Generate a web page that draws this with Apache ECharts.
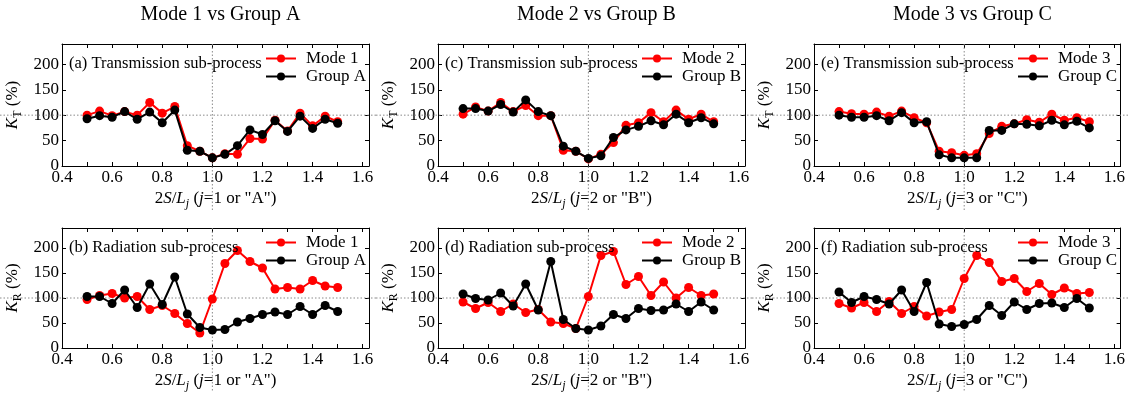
<!DOCTYPE html>
<html>
<head>
<meta charset="utf-8">
<script src="https://cdn.jsdelivr.net/npm/echarts@6/dist/echarts.min.js"></script>
<style>
html, body { margin: 0; padding: 0; background: #fff; }
#main { width: 1128px; height: 399px; }
</style>
</head>
<body>
<div id="main"></div>
<script>
var chart = echarts.init(document.getElementById('main'));

var xs = [0.5, 0.55, 0.6, 0.65, 0.7, 0.75, 0.8, 0.85, 0.9, 0.95, 1.0,
          1.05, 1.1, 1.15, 1.2, 1.25, 1.3, 1.35, 1.4, 1.45, 1.5];

var kT_mode1  = [100, 108, 99, 107, 100, 125, 104, 117, 40, 29, 16, 24, 23, 54, 53, 90, 69, 104, 79, 98, 87];
var kT_groupA = [93, 99, 96, 107, 92, 106, 85, 110, 31, 29, 16, 23, 40, 71, 62, 89, 68, 98, 74, 92, 84];
var kT_mode2  = [102, 116, 108, 125, 107, 119, 99, 99, 31, 29, 14, 23, 46, 80, 85, 105, 87, 110, 92, 102, 87];
var kT_groupB = [113, 113, 108, 121, 106, 130, 107, 99, 39, 29, 15, 20, 56, 71, 78, 89, 81, 102, 85, 95, 83];
var kT_mode3  = [107, 103, 102, 106, 98, 108, 95, 85, 29, 26, 21, 24, 64, 78, 83, 91, 86, 102, 90, 95, 87];
var kT_groupC = [100, 96, 96, 99, 89, 105, 85, 87, 22, 16, 16, 16, 70, 70, 83, 82, 79, 90, 81, 88, 75];

var kR_mode1  = [97, 105, 109, 100, 103, 77, 85, 69, 49, 30, 98, 169, 195, 173, 160, 118, 121, 118, 135, 124, 121];
var kR_groupA = [103, 103, 89, 116, 81, 128, 87, 142, 68, 41, 36, 37, 52, 59, 67, 72, 67, 83, 67, 85, 73];
var kR_mode2  = [92, 79, 91, 73, 88, 71, 77, 52, 49, 39, 103, 185, 193, 127, 143, 105, 132, 100, 121, 105, 108];
var kR_groupB = [108, 99, 96, 110, 84, 128, 76, 173, 57, 39, 36, 44, 67, 59, 79, 75, 76, 88, 73, 92, 76];
var kR_mode3  = [89, 80, 91, 73, 93, 69, 83, 64, 72, 77, 139, 185, 171, 133, 139, 113, 129, 107, 120, 109, 111];
var kR_groupC = [112, 91, 103, 97, 88, 116, 73, 131, 48, 43, 47, 57, 85, 65, 92, 77, 89, 90, 81, 99, 80];

var colTitles = ['Mode 1 vs Group A', 'Mode 2 vs Group B', 'Mode 3 vs Group C'];
var jText = ['1 or "A"', '2 or "B"', '3 or "C"'];
var refX = 1.0, refY = 100;

var panels = [
    { col: 0, row: 0, label: '(a) Transmission sub-process', red: kT_mode1, black: kT_groupA, rn: 'Mode 1', bn: 'Group A', k: 'T' },
    { col: 0, row: 1, label: '(b) Radiation sub-process',    red: kR_mode1, black: kR_groupA, rn: 'Mode 1', bn: 'Group A', k: 'R' },
    { col: 1, row: 0, label: '(c) Transmission sub-process', red: kT_mode2, black: kT_groupB, rn: 'Mode 2', bn: 'Group B', k: 'T' },
    { col: 1, row: 1, label: '(d) Radiation sub-process',    red: kR_mode2, black: kR_groupB, rn: 'Mode 2', bn: 'Group B', k: 'R' },
    { col: 2, row: 0, label: '(e) Transmission sub-process', red: kT_mode3, black: kT_groupC, rn: 'Mode 3', bn: 'Group C', k: 'T' },
    { col: 2, row: 1, label: '(f) Radiation sub-process',    red: kR_mode3, black: kR_groupC, rn: 'Mode 3', bn: 'Group C', k: 'R' }
];

var FONT = '"Liberation Serif", "Times New Roman", serif';
var gridLeft = [62, 438, 814];
var gridTop = [44, 228];
var gridH = [122, 120];
var gridW = 307;

function rich() {
    return {
        n: { fontFamily: FONT, fontSize: 17, color: '#000', lineHeight: 17 },
        i: { fontFamily: FONT, fontSize: 17, color: '#000', fontStyle: 'italic', lineHeight: 17 },
        sub: { fontFamily: FONT, fontSize: 12, color: '#000', verticalAlign: 'bottom', lineHeight: 23 },
        isub: { fontFamily: FONT, fontSize: 12, color: '#000', fontStyle: 'italic', verticalAlign: 'bottom', lineHeight: 23 }
    };
}

var grids = [], xAxes = [], yAxes = [], series = [], legends = [], titles = [];

colTitles.forEach(function (t, c) {
    titles.push({
        text: t, left: gridLeft[c] + gridW / 2, top: 0, textAlign: 'center',
        textStyle: { fontFamily: FONT, fontSize: 20, fontWeight: 'normal', color: '#000' }
    });
});

var tickStyle = { show: true, inside: true, length: 4, lineStyle: { color: '#000', width: 1 } };
var lineStyleAx = { show: true, onZero: false, lineStyle: { color: '#000', width: 1 } };

panels.forEach(function (p, i) {
    var L = gridLeft[p.col], T = gridTop[p.row], H = gridH[p.row];
    grids.push({ left: L, top: T, width: gridW, height: H, containLabel: false });

    var xBase = {
        type: 'value', gridIndex: i, min: 0.4, max: 1.625, interval: 0.2,
        axisLine: lineStyleAx, axisTick: tickStyle,
        minorTick: { show: true, splitNumber: 2, length: 4, lineStyle: { color: '#000', width: 1 } },
        splitLine: { show: false }, minorSplitLine: { show: false }
    };
    xAxes.push(Object.assign({}, xBase, {
        position: 'bottom',
        axisLabel: {
            show: true, margin: 3, showMaxLabel: false,
            fontFamily: FONT, fontSize: 17, color: '#000',
            formatter: function (v) { return v.toFixed(1); }
        },
        name: '{n|2}{i|S}{n|/}{i|L}{isub|j}{n| (}{i|j}{n|=' + jText[p.col] + ')}',
        nameLocation: 'middle', nameGap: 21,
        nameTextStyle: { rich: rich() }
    }));
    xAxes.push(Object.assign({}, xBase, { position: 'top', axisLabel: { show: false } }));

    var yBase = {
        type: 'value', gridIndex: i, min: 0, max: 240, interval: 50,
        axisLine: lineStyleAx, axisTick: tickStyle,
        splitLine: { show: false }
    };
    yAxes.push(Object.assign({}, yBase, {
        position: 'left',
        axisLabel: { show: true, margin: 3, showMaxLabel: false, fontFamily: FONT, fontSize: 17, color: '#000' },
        name: '{i|K}{sub|' + p.k + '}{n| (%)}',
        nameLocation: 'middle', nameGap: 38, nameRotate: 90,
        nameTextStyle: { rich: rich() }
    }));
    yAxes.push(Object.assign({}, yBase, { position: 'right', axisLabel: { show: false } }));

    function mk(name, vals, color, z) {
        return {
            name: name, type: 'line', xAxisIndex: 2 * i, yAxisIndex: 2 * i,
            data: xs.map(function (x, k) { return [x, vals[k]]; }),
            symbol: 'circle', symbolSize: 9, z: z,
            lineStyle: { color: color, width: 2 },
            itemStyle: { color: color },
            emphasis: { disabled: true },
            animation: false
        };
    }
    series.push(mk(p.rn, p.red, '#ff0000', 3));
    series.push(mk(p.bn, p.black, '#000000', 4));

    legends.push({
        data: [p.rn, p.bn], orient: 'vertical', left: L + 203, top: T + 6,
        padding: 0, itemGap: 1, itemWidth: 30, itemHeight: 10,
        selectedMode: false,
        textStyle: { fontFamily: FONT, fontSize: 17, color: '#000', lineHeight: 17, padding: [0, 0, 0, 5] }
    });

    titles.push({
        text: p.label, left: L + 2, top: T + 6,
        textStyle: { fontFamily: FONT, fontSize: 16.5, fontWeight: 'normal', color: '#000' }
    });
});

chart.setOption({
    backgroundColor: '#fff',
    animation: false,
    title: titles,
    grid: grids,
    xAxis: xAxes,
    yAxis: yAxes,
    legend: legends,
    series: series
});

// dotted reference lines at x = 1.0 and y = 100, extending past the plot area
var graphics = [];
panels.forEach(function (p, i) {
    var pt = chart.convertToPixel({ gridIndex: i }, [refX, refY]);
    var T = gridTop[p.row], H = gridH[p.row];
    var dash = { stroke: '#8a8a8a', lineWidth: 1, lineDash: [1.5, 2] };
    graphics.push({
        type: 'line', silent: true, z: 1,
        shape: { x1: pt[0], y1: T, x2: pt[0], y2: T + H + 44 },
        style: dash
    });
    graphics.push({
        type: 'line', silent: true, z: 1,
        shape: { x1: p.col * 376, y1: pt[1], x2: p.col * 376 + 376, y2: pt[1] },
        style: dash
    });
});
chart.setOption({ graphic: graphics });
</script>
</body>
</html>
